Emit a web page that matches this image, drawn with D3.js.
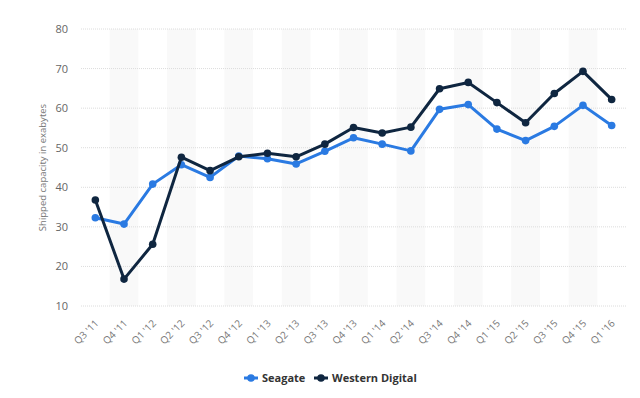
<!DOCTYPE html>
<html><head><meta charset="utf-8">
<script src="https://cdn.jsdelivr.net/npm/d3@7"></script>
<style>body{margin:0;background:#fff;font-family:"Open Sans",sans-serif;}</style>
</head><body><svg id="c" width="640" height="398"></svg>
<script>
const categories = ["Q3 '11","Q4 '11","Q1 '12","Q2 '12","Q3 '12","Q4 '12","Q1 '13","Q2 '13","Q3 '13","Q4 '13","Q1 '14","Q2 '14","Q3 '14","Q4 '14","Q1 '15","Q2 '15","Q3 '15","Q4 '15","Q1 '16"];
const seagate = [32.3,30.7,40.8,45.7,42.5,47.9,47.2,45.9,49.1,52.5,50.9,49.2,59.7,60.9,54.7,51.8,55.4,60.7,55.6];
const westernDigital = [36.8,16.8,25.6,47.6,44.2,47.7,48.6,47.7,50.9,55.1,53.7,55.2,64.9,66.5,61.4,56.3,63.7,69.3,62.2];
const yTicks = [10,20,30,40,50,60,70,80];
const seriesNames = ["Seagate","Western Digital"];
const colors = ["#2a7ae2","#0f2640"];

const svg = d3.select("#c");
const L=81, R=626, T=29, B=306;
const x = d3.scaleBand().domain(categories).range([L,R]).padding(0);
const y = d3.scaleLinear().domain([10,80]).range([B,T]);

// alternating bands
svg.append("g").selectAll("rect").data(categories.filter((d,i)=>i%2===1)).join("rect")
  .attr("x",d=>x(d)).attr("y",T).attr("width",x.bandwidth()).attr("height",B-T)
  .attr("fill","#f9f9f9");

// grid
svg.append("g").selectAll("line").data(yTicks).join("line")
  .attr("x1",L).attr("x2",R).attr("y1",d=>y(d)).attr("y2",d=>y(d))
  .attr("stroke","#dcdcdc").attr("stroke-dasharray","1,1").attr("stroke-width",1);

// y labels
const yAxis = d3.axisLeft(y).tickValues(yTicks).tickSize(0).tickPadding(13);
const gy = svg.append("g").attr("transform",`translate(${L},0)`).call(yAxis);
gy.select(".domain").remove();
gy.selectAll("text").attr("fill","#666").style("font-size","11px").style("font-family","Open Sans");

// y title
svg.append("text").attr("transform",`translate(46,${(T+B)/2}) rotate(-90)`)
  .attr("text-anchor","middle").attr("fill","#777").style("font-size","9.5px")
  .text("Shipped capacity in exabytes");

// x labels
const xAxis = d3.axisBottom(x).tickSize(0).tickPadding(0);
const gx = svg.append("g").attr("transform",`translate(0,${B})`).call(xAxis);
gx.select(".domain").remove();
gx.selectAll("text").attr("fill","#777").style("font-size","10px").style("font-family","Open Sans")
  .attr("text-anchor","end").attr("dy",null).attr("y",0)
  .attr("transform","translate(4,18) rotate(-45)");

const series = [seagate, westernDigital];
const line = d3.line().x((d,i)=>x(categories[i])+x.bandwidth()/2).y(d=>y(d));
series.forEach((s,k)=>{
  const g = svg.append("g");
  g.append("path").datum(s).attr("d",line).attr("fill","none")
    .attr("stroke",colors[k]).attr("stroke-width",3).attr("stroke-linejoin","round");
  g.selectAll("circle").data(s).join("circle")
    .attr("cx",(d,i)=>x(categories[i])+x.bandwidth()/2).attr("cy",d=>y(d))
    .attr("r",3.8).attr("fill",colors[k]);
});

// legend
const leg = svg.append("g").attr("transform","translate(0,378)");
const legX = [244, 314];
seriesNames.forEach((n,k)=>{
  const g = leg.append("g").attr("transform",`translate(${legX[k]},0)`);
  g.append("line").attr("x1",0).attr("x2",14).attr("y1",0).attr("y2",0).attr("stroke",colors[k]).attr("stroke-width",3);
  g.append("circle").attr("cx",7).attr("cy",0).attr("r",3.8).attr("fill",colors[k]);
  g.append("text").attr("x",18).attr("y",4).attr("fill","#333").style("font-size","11px")
    .style("font-weight","bold").text(n);
});
</script></body></html>
